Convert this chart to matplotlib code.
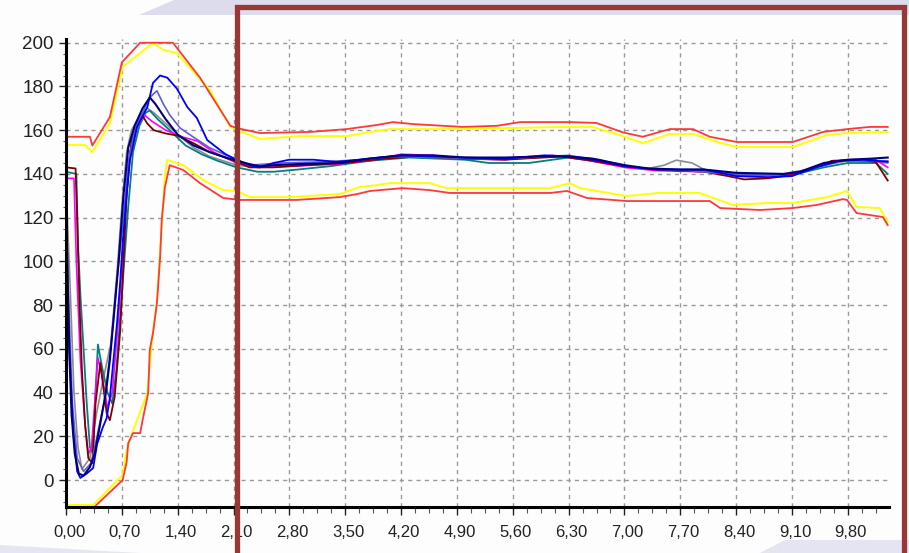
import matplotlib
matplotlib.use("Agg")
import matplotlib.pyplot as plt
import matplotlib.transforms as mtransforms
from matplotlib.ticker import MultipleLocator, FixedLocator
from matplotlib.patches import Rectangle, Polygon

# upper / lower limit bands
upper_red_x = [0, 0.30, 0.33, 0.55, 0.70, 0.93, 1.34, 1.68, 2.06, 2.14, 2.43, 3.06, 3.52, 3.90, 4.10, 4.35,
               4.97, 5.40, 5.69, 6.32, 6.65, 6.98, 7.23, 7.44, 7.57, 7.86, 8.07, 8.41, 9.11, 9.49, 9.79, 10.08, 10.30]
upper_red_y = [157, 157, 153, 166, 191, 200, 200, 184, 162, 161, 158.7, 159.2, 160.5, 162.4, 163.7, 162.8,
               161.5, 162, 163.7, 163.7, 163.3, 159, 157, 159.2, 160.5, 160.5, 157, 154.6, 154.6, 159.2, 160.5, 161.5, 161.5]

upper_yel_x = [0, 0.24, 0.33, 0.55, 0.71, 1.09, 1.22, 1.39, 1.80, 2.06, 2.14, 2.43, 2.93, 3.52, 3.81, 4.06,
               4.97, 6.23, 6.60, 6.94, 7.23, 7.57, 7.86, 8.16, 8.41, 9.11, 9.54, 9.79, 10.30]
upper_yel_y = [153.2, 153.2, 150, 163, 189, 199.9, 196.7, 195.3, 178.4, 161.5, 160.1, 156, 157.3, 157.3, 159.2, 160.5,
               160.5, 161.5, 161.5, 157.8, 154.1, 158.3, 158.3, 154.6, 152.3, 152.3, 157.8, 158.7, 159.2]

lower_red_x = [0, 0.34, 0.71, 0.76, 0.78, 0.84, 0.93, 0.96, 1.03, 1.05, 1.09, 1.14, 1.18, 1.20, 1.24, 1.30,
               1.47, 1.68, 1.97, 2.18, 2.89, 3.43, 3.65, 3.81, 4.22, 4.56, 4.81, 6.07, 6.28, 6.53, 7.03,
               8.07, 8.20, 8.70, 9.11, 9.41, 9.74, 9.79, 9.91, 10.24, 10.30]
lower_red_y = [-30, -12.8, 0, 8.2, 16.9, 21.5, 21.5, 27.4, 39.8, 59.5, 67.2, 81, 102, 119, 134, 144,
               141.8, 135.8, 129, 128.1, 128.1, 129.4, 130.8, 132.2, 133.5, 132.6, 131.3, 131.3, 132.2, 129, 127.6,
               127.6, 124.4, 123.5, 124.4, 125.8, 128.5, 128.1, 122.1, 120.3, 116.6]

lower_yel_x = [0, 0.34, 0.71, 0.76, 0.83, 1.02, 1.08, 1.14, 1.20, 1.24, 1.27, 1.47, 1.72, 1.97, 2.14, 2.31,
               2.81, 3.43, 3.68, 3.90, 4.06, 4.56, 4.77, 6.07, 6.32, 6.44, 7.03, 7.44, 7.94, 8.36, 8.78,
               9.11, 9.54, 9.79, 9.91, 10.20, 10.30]
lower_yel_y = [-11.4, -11.4, 2.3, 13.7, 21.5, 39.8, 64, 82, 116.6, 139.5, 146.4, 144, 137.2, 132.6, 132.2, 129.4,
               129.4, 130.8, 134, 134.9, 135.8, 135.8, 133.5, 133.5, 135.8, 133.5, 129.9, 131.3, 131.3, 125.8, 126.7,
               126.7, 129.4, 132.2, 124.9, 124.4, 118]

# measured curves
navy_x = [0, 0.02, 0.04, 0.07, 0.11, 0.16, 0.22, 0.30, 0.36, 0.44, 0.50, 0.55, 0.60, 0.66, 0.72, 0.78, 0.86,
          0.96, 1.05, 1.12, 1.25, 1.40, 1.60, 1.80, 2.00, 2.14, 2.30, 2.43, 2.60, 2.90, 3.40, 3.80, 4.20,
          4.60, 5.00, 5.50, 6.00, 6.30, 6.60, 7.00, 7.30, 7.70, 8.00, 8.40, 9.00, 9.20, 9.50, 9.80, 10.10, 10.30]
navy_y = [128, 95, 60, 30, 12, 3, 2, 6, 12, 28, 40, 55, 75, 100, 130, 152, 162,
          170, 175, 172, 165, 158, 153, 150, 147.5, 146, 144.5, 143.5, 144, 144.5, 145, 147, 148.5,
          148.5, 147.5, 147.5, 148, 148, 147, 144, 142.5, 142, 142, 140.5, 140, 141, 145, 146.5, 147, 147.5]

blue_x = [0, 0.05, 0.09, 0.14, 0.18, 0.26, 0.34, 0.39, 0.46, 0.51, 0.55, 0.59, 0.64, 0.68, 0.71, 0.76, 0.80,
          0.89, 1.02, 1.09, 1.18, 1.27, 1.39, 1.52, 1.64, 1.77, 2.00, 2.14, 2.30, 2.43, 2.60, 2.80, 3.10,
          3.40, 3.80, 4.20, 4.60, 5.00, 5.50, 6.00, 6.30, 6.70, 7.00, 7.40, 8.00, 8.40, 8.80, 9.10, 9.40,
          9.70, 10.00, 10.30]
blue_y = [100, 53, 22, 4, 1, 3, 5.5, 16.5, 24, 28.4, 37.6, 53, 72, 91, 108, 131, 146,
          161.5, 170.6, 181.6, 185, 184, 179, 170.6, 165.6, 155.5, 149, 146.5, 144, 143, 145, 146.5, 146.5,
          145.5, 147, 148.5, 148, 147.5, 147, 148.5, 148, 146, 143.5, 142, 142, 139, 138.5, 139, 143,
          146, 146.5, 145.5]

slate_x = [0, 0.03, 0.08, 0.14, 0.22, 0.32, 0.40, 0.48, 0.56, 0.64, 0.72, 0.78, 0.86, 0.96, 1.05, 1.14,
           1.22, 1.30, 1.43, 1.59, 1.80, 2.06, 2.30, 2.70, 3.20, 3.70, 4.10, 4.60, 5.20, 5.80, 6.30,
           6.80, 7.20, 7.80, 8.30, 8.90, 9.30, 9.70, 10.30]
slate_y = [122, 85, 35, 10, 4, 8, 22, 36, 60, 92, 120, 145, 160, 168, 175, 178,
           172, 167, 161, 157, 152, 147.7, 144, 145, 145.5, 146.5, 148, 147.5, 147, 147.5, 148.5,
           145.5, 142.5, 141.5, 140, 139.5, 142, 146, 146]

maroon_x = [0, 0.12, 0.14, 0.17, 0.20, 0.24, 0.28, 0.33, 0.37, 0.43, 0.47, 0.51, 0.55, 0.61, 0.68, 0.76,
            0.82, 0.90, 0.96, 1.02, 1.10, 1.25, 1.40, 1.60, 1.80, 2.00, 2.14, 2.30, 2.60, 3.00, 3.50,
            4.00, 4.40, 5.00, 5.50, 6.20, 6.60, 7.00, 7.40, 8.00, 8.30, 8.50, 8.80, 9.10, 9.40, 9.60,
            9.90, 10.15, 10.30]
maroon_y = [143, 142.5, 120, 80, 50, 25, 10, 7.8, 35, 53.5, 42, 30.6, 27.4, 38, 68.6, 130,
            155, 163, 166.5, 163, 160, 158.5, 157.5, 154, 150, 147.5, 145.5, 143, 143, 144, 145,
            147, 148, 147, 146.5, 148, 146, 143.5, 142, 141, 139, 137.5, 138, 139.5, 143, 146,
            146.5, 145.5, 137]

teal_x = [0, 0.13, 0.15, 0.18, 0.22, 0.26, 0.30, 0.34, 0.37, 0.40, 0.45, 0.52, 0.58, 0.63, 0.72, 0.78,
          0.84, 0.92, 1.00, 1.05, 1.15, 1.30, 1.50, 1.70, 1.90, 2.14, 2.40, 2.60, 2.90, 3.30, 3.80,
          4.30, 5.00, 5.30, 5.80, 6.30, 6.60, 7.00, 7.40, 8.00, 8.40, 9.10, 9.50, 9.80, 10.15, 10.30]
teal_y = [141, 140, 108, 85, 60, 35, 15, 12, 40, 62, 52, 40, 35, 50, 95, 125,
          150, 162, 168, 169, 165, 160, 153, 149, 146, 143, 141, 141, 142, 143.5, 146,
          147.5, 146.5, 145, 145, 147.5, 146, 143.5, 142, 141.5, 139.5, 139.5, 143, 145, 145, 140]

magenta_x = [0, 0.10, 0.13, 0.18, 0.24, 0.28, 0.32, 0.36, 0.40, 0.45, 0.52, 0.58, 0.66, 0.74, 0.80, 0.90,
             0.98, 1.08, 1.25, 1.45, 1.65, 1.85, 2.14, 2.40, 2.80, 3.40, 3.80, 4.20, 4.60, 5.00, 5.50,
             6.10, 6.50, 7.00, 7.40, 8.00, 8.40, 9.00, 9.50, 9.80, 10.15, 10.30]
magenta_y = [138, 138, 100, 55, 25, 12, 15, 35, 56, 48, 33, 40, 75, 120, 150, 162,
             167, 164, 160, 157, 155, 150, 145, 143, 143.5, 144.5, 146, 149, 148.5, 147, 146.5,
             148.5, 146.5, 143, 141.5, 141, 139.5, 139, 144, 146.5, 146.5, 143]

gray_x = [0, 0.05, 0.10, 0.15, 0.20, 0.30, 0.38, 0.46, 0.56, 0.64, 0.70, 0.76, 0.82, 0.92, 1.02, 1.10,
          1.25, 1.40, 1.60, 1.80, 2.14, 2.40, 3.00, 3.50, 4.20, 5.00, 5.60, 6.30, 6.70, 7.00, 7.30,
          7.50, 7.65, 7.85, 8.00, 8.40, 9.10, 9.50, 9.80, 10.30]
gray_y = [135, 90, 40, 15, 5, 10, 30, 45, 62, 95, 125, 150, 160, 166, 170, 168,
          163, 158, 152, 148, 144, 143, 144, 145.5, 148, 147, 147, 148, 146.5, 143, 142.5,
          144, 146.3, 145, 142, 140, 139.5, 144, 146, 145]

fig = plt.figure(figsize=(9.09, 5.53), dpi=100, facecolor="#fdfdfd")

# pale slide decorations behind the chart
lav = "#dcdcec"
fig.patches.append(Polygon([(139 / 909, 1 - 15 / 553), (174 / 909, 1.0), (1.0, 1.0), (1.0, 1 - 15 / 553)],
                           closed=True, transform=fig.transFigure, facecolor=lav, edgecolor="none"))
fig.patches.append(Polygon([(0, 0), (0, 8 / 553), (140 / 909, 0)],
                           closed=True, transform=fig.transFigure, facecolor="#e6e6f2", edgecolor="none"))
fig.patches.append(Polygon([(760 / 909, 0), (785 / 909, 13 / 553), (1.0, 13 / 553), (1.0, 0)],
                           closed=True, transform=fig.transFigure, facecolor="#e4e4f2", edgecolor="none"))

ax = fig.add_axes([66 / 909, 1 - 507 / 553, 822.5 / 909, 468 / 553])
ax.set_facecolor("#fdfdfd")

ax.plot(upper_yel_x, upper_yel_y, color="#ffff00", lw=1.4)
ax.plot(lower_yel_x, lower_yel_y, color="#ffff00", lw=1.4)
ax.plot(upper_red_x, upper_red_y, color="#ff3838", lw=1.3)
ax.plot(lower_red_x, lower_red_y, color="#ff3838", lw=1.3)

ax.plot(gray_x, gray_y, color="#8c8c8c", lw=1.2)
ax.plot(teal_x, teal_y, color="#008080", lw=1.3)
ax.plot(magenta_x, magenta_y, color="#ff00ff", lw=1.2)
ax.plot(maroon_x, maroon_y, color="#800000", lw=1.3)
ax.plot(slate_x, slate_y, color="#6060c8", lw=1.2)
ax.plot(blue_x, blue_y, color="#0000ff", lw=1.3)
ax.plot(navy_x, navy_y, color="#000080", lw=1.5)

ax.set_xlim(0, 10.31)
ax.set_ylim(-12.3, 201.7)

xt = [round(0.7 * i, 2) for i in range(15)]
ax.xaxis.set_major_locator(FixedLocator(xt))
ax.set_xticklabels([f"{v:.2f}".replace(".", ",") for v in xt])
ax.xaxis.set_minor_locator(MultipleLocator(0.175))
ax.yaxis.set_major_locator(MultipleLocator(20))
ax.yaxis.set_minor_locator(MultipleLocator(5))

ax.grid(True, which="major", color="#9a9a9a", lw=1.0, linestyle=(0, (3, 3)))
ax.set_axisbelow(True)

for side in ["top", "right"]:
    ax.spines[side].set_visible(False)
for side in ["left", "bottom"]:
    ax.spines[side].set_linewidth(2.2)
    ax.spines[side].set_color("black")

ax.tick_params(axis="x", which="major", length=6, width=1, pad=7, colors="#222222",
               labelsize=12)
ax.tick_params(axis="x", which="minor", length=4, width=0.8, color="#555555")
ax.tick_params(axis="y", which="major", length=5, width=1, pad=4, colors="#222222",
               labelsize=13.5)
ax.tick_params(axis="y", which="minor", length=2.5, width=0.8, color="#555555")
for lab in ax.get_xticklabels() + ax.get_yticklabels():
    lab.set_fontfamily("Liberation Sans")

# nudge the x labels slightly to the right
nudge = mtransforms.ScaledTranslation(3 / 100, 0, fig.dpi_scale_trans)
for lab in ax.get_xticklabels():
    lab.set_transform(lab.get_transform() + nudge)

# highlight frame over the right part
fig.patches.append(Rectangle((237.5 / 909, -0.05), (904 - 237.5) / 909, 1.05 - 7 / 553,
                             transform=fig.transFigure, fill=False, edgecolor="#9b3636",
                             linewidth=3.8, zorder=10))

fig.savefig("out.png", dpi=100, facecolor=fig.get_facecolor())
